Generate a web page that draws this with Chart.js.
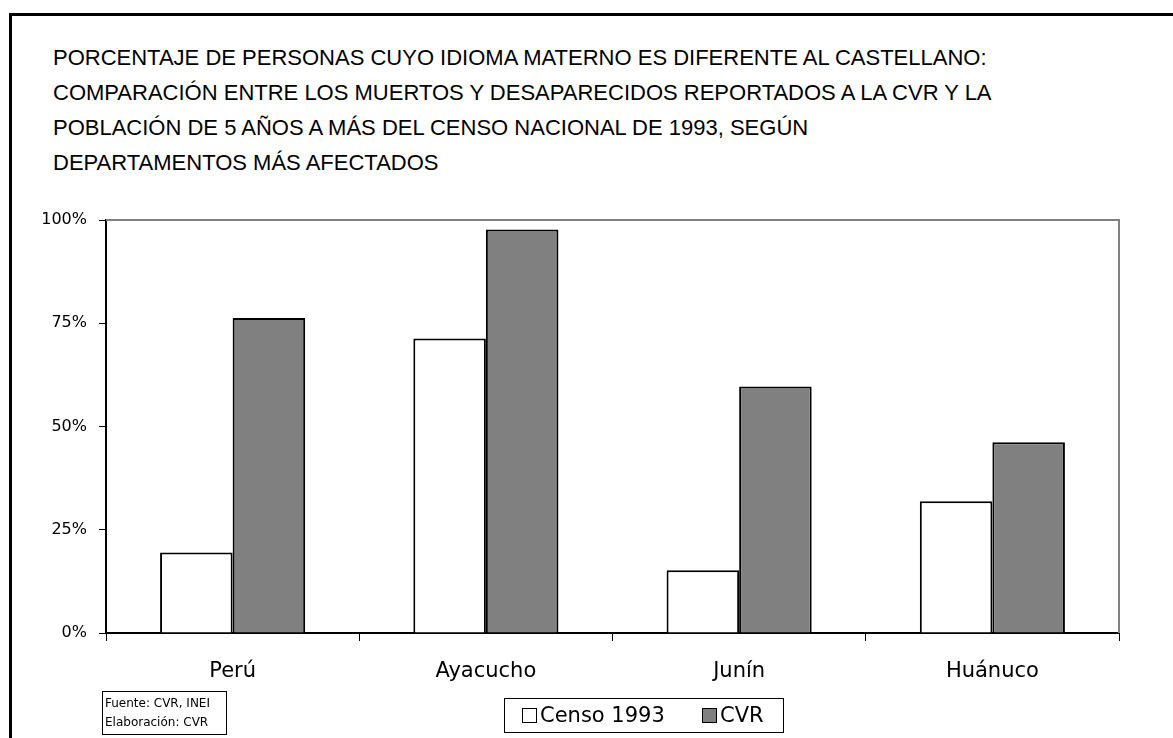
<!DOCTYPE html>
<html>
<head>
<meta charset="utf-8">
<script src="https://cdn.jsdelivr.net/npm/chart.js@4/dist/chart.umd.min.js"></script>
<style>
  html, body { margin: 0; padding: 0; background: #fff; }
  body { width: 1173px; height: 738px; position: relative; overflow: hidden; font-family: 'Liberation Sans', Arial, sans-serif; color: #000; }
  #frame { position: absolute; left: 9px; top: 13px; width: 1200px; height: 800px; border-top: 3px solid #000; border-left: 3px solid #000; }
  #chartBox { position: absolute; left: 0; top: 0; width: 1173px; height: 738px; }
  #title { position: absolute; left: 53px; top: 40px; font-size: 22px; line-height: 35px; white-space: nowrap; }
  #legend { position: absolute; left: 504px; top: 698px; width: 278px; height: 33px; border: 1px solid #000; font-family: 'DejaVu Sans', sans-serif; font-size: 21px; line-height: 33px; box-sizing: content-box; }
  #legend span.item { position: absolute; top: 0; }
  #legend i { display: inline-block; width: 13px; height: 13px; border: 1px solid #000; margin-right: 3px; vertical-align: -1px; }
  #source { position: absolute; left: 102px; top: 691px; width: 125px; height: 44px; border: 1px solid #000; font-family: 'DejaVu Sans', sans-serif; font-size: 12px; line-height: 19px; padding-left: 2px; padding-top: 2px; box-sizing: border-box; white-space: nowrap; }
</style>
</head>
<body>
<div id="frame"></div>
<div id="title"></div>
<div id="chartBox"><canvas id="chartCvr"></canvas></div>
<div id="source">Fuente: CVR, INEI<br>Elaboración: CVR</div>
<div id="legend"></div>
<script>
/* datos */
const titleLines = [
  'PORCENTAJE DE PERSONAS CUYO IDIOMA MATERNO ES DIFERENTE AL CASTELLANO:',
  'COMPARACIÓN ENTRE LOS MUERTOS Y DESAPARECIDOS REPORTADOS A LA CVR Y LA',
  'POBLACIÓN DE 5 AÑOS A MÁS DEL CENSO NACIONAL DE 1993, SEGÚN',
  'DEPARTAMENTOS MÁS AFECTADOS'
];
const departamentos = ['Perú', 'Ayacucho', 'Junín', 'Huánuco'];
const censo1993 = [19.5, 71.3, 15.2, 31.9];
const cvr = [76.3, 97.7, 59.7, 46.2];
const yTicks = [0, 25, 50, 75, 100];
const seriesLabels = ['Censo 1993', 'CVR'];
const seriesColors = ['#ffffff', '#808080'];

$ = (s) => document.querySelector(s);
$('#title').innerHTML = titleLines.join('<br>');

/* leyenda en html, con recuadro */
const legendPos = [17, 197];
seriesLabels.forEach(function (lbl, i) {
  const s = document.createElement('span');
  s.className = 'item';
  s.style.left = legendPos[i] + 'px';
  s.innerHTML = '<i style="background:' + seriesColors[i] + '"></i>' + lbl;
  $('#legend').appendChild(s);
});

/* borde gris del área de trazado */
const plotBorder = {
  id: 'plotBorder',
  beforeDatasetsDraw(chart) {
    const a = chart.chartArea;
    const ctx = chart.ctx;
    ctx.save();
    ctx.strokeStyle = '#808080';
    ctx.lineWidth = 2;
    ctx.beginPath();
    ctx.moveTo(a.left, a.top);
    ctx.lineTo(a.right, a.top);
    ctx.lineTo(a.right, a.bottom);
    ctx.stroke();
    ctx.restore();
  },
};

const chart = new Chart($('#chartCvr'), {
  type: 'bar',
  data: {
    labels: departamentos,
    datasets: [
      {
        label: seriesLabels[0],
        data: censo1993,
        backgroundColor: seriesColors[0],
        borderColor: '#000',
        borderWidth: 2,
        categoryPercentage: 0.573,
        barPercentage: 1,
      },
      {
        label: seriesLabels[1],
        data: cvr,
        backgroundColor: seriesColors[1],
        borderColor: '#000',
        borderWidth: 2,
        categoryPercentage: 0.573,
        barPercentage: 1,
      },
    ],
  },
  plugins: [plotBorder],
  options: {
    responsive: true,
    maintainAspectRatio: false,
    animation: false,
    layout: {
      padding: { top: 220, left: 0, right: 54, bottom: 0 },
    },
    plugins: {
      legend: { display: false },
      title: { display: false },
      tooltip: { enabled: false },
    },
    scales: {
      x: {
        grid: {
          offset: true,
          drawOnChartArea: false,
          color: '#000',
          tickLength: 8,
        },
        border: { color: '#000', width: 2 },
        ticks: {
          color: '#000',
          padding: 18,
          font: { family: 'DejaVu Sans', size: 21 },
        },
        afterFit: function (s) {
          s.height = 105;
        },
      },
      y: {
        min: 0,
        max: 100,
        afterBuildTicks: function (s) {
          s.ticks = yTicks.map((v) => ({ value: v }));
        },
        grid: {
          drawOnChartArea: false,
          color: '#000',
          tickLength: 7,
        },
        border: { color: '#000', width: 2 },
        ticks: {
          color: '#000',
          padding: 12,
          font: { family: 'DejaVu Sans', size: 16 },
          callback: function (v) {
            return v + '%';
          },
        },
        afterFit: function (s) {
          s.width = 106;
        },
      },
    },
  },
});
</script>
</body>
</html>
